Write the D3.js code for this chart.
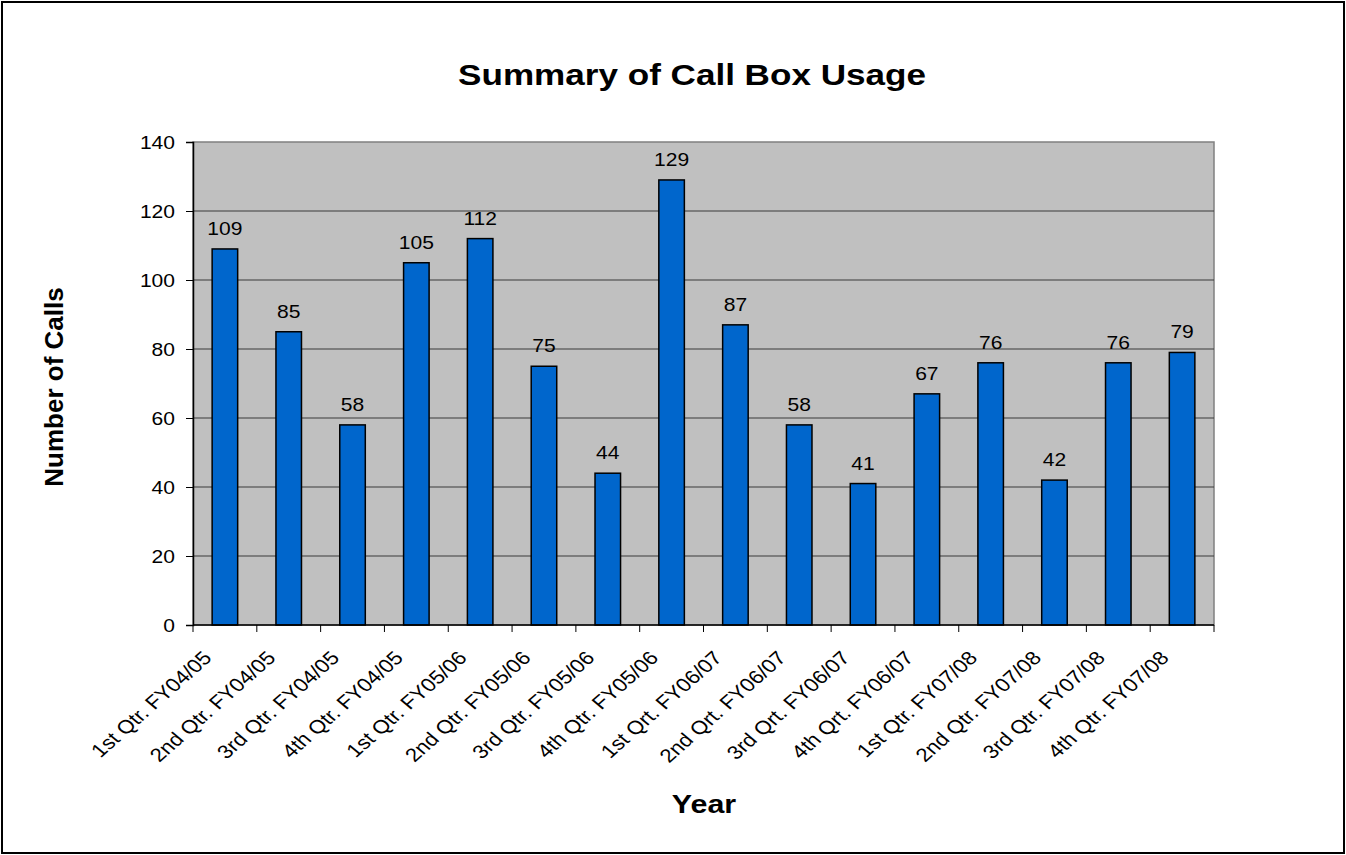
<!DOCTYPE html>
<html>
<head>
<meta charset="utf-8">
<script src="https://cdn.jsdelivr.net/npm/d3@7"></script>
<style>
  body { margin: 0; background: #fff; }
  svg text { font-family: "Liberation Sans", Arial, sans-serif; fill: #000; }
</style>
</head>
<body>
<svg id="chart" width="1346" height="855"></svg>
<script>
// quarters along the x axis (labels kept as written on the original chart)
const quarters = [
  "1st Qtr. FY04/05", "2nd Qtr. FY04/05", "3rd Qtr. FY04/05", "4th Qtr. FY04/05",
  "1st Qtr. FY05/06", "2nd Qtr. FY05/06", "3rd Qtr. FY05/06", "4th Qtr. FY05/06",
  "1st Qrt. FY06/07", "2nd Qrt. FY06/07", "3rd Qrt. FY06/07", "4th Qrt. FY06/07",
  "1st Qtr. FY07/08", "2nd Qtr. FY07/08", "3rd Qtr. FY07/08", "4th Qtr. FY07/08"
];
// number of calls per quarter
const calls = [109, 85, 58, 105, 112, 75, 44, 129, 87, 58, 41, 67, 76, 42, 76, 79];
const yTicks = [0, 20, 40, 60, 80, 100, 120, 140];

const svg = d3.select("#chart");
const W = 1346, H = 855;
const plot = { left: 193, top: 142, right: 1214, bottom: 625 };
const SX = 1.17; // the original picture is a bit stretched sideways, text too

// outer frame
svg.append("rect")
  .attr("x", 2).attr("y", 2)
  .attr("width", W - 4).attr("height", H - 4)
  .attr("fill", "#fff").attr("stroke", "#000").attr("stroke-width", 2);

const x = d3.scaleBand().domain(quarters).range([plot.left, plot.right]).padding(0);
const y = d3.scaleLinear().domain([0, 140]).range([plot.bottom, plot.top]);

// grey plot area
svg.append("rect")
  .attr("x", plot.left).attr("y", plot.top)
  .attr("width", plot.right - plot.left).attr("height", plot.bottom - plot.top)
  .attr("fill", "#c0c0c0").attr("stroke", "#808080").attr("stroke-width", 1.5);

// gridlines
svg.append("g").selectAll("line")
  .data(yTicks.filter(d => d > 0 && d < 140))
  .join("line")
    .attr("x1", plot.left).attr("x2", plot.right)
    .attr("y1", d => y(d)).attr("y2", d => y(d))
    .attr("stroke", "#3a3a3a").attr("stroke-width", 1);

// bars - about 40% of each band, centred
const barW = x.bandwidth() * 0.4;
svg.append("g").selectAll("rect")
  .data(calls)
  .join("rect")
    .attr("x", (d, i) => x(quarters[i]) + (x.bandwidth() - barW) / 2)
    .attr("y", d => y(d))
    .attr("width", barW)
    .attr("height", d => y(0) - y(d))
    .attr("fill", "#0066cc")
    .attr("stroke", "#000").attr("stroke-width", 1.5);

// value labels
svg.append("g").selectAll("text")
  .data(calls)
  .join("text")
    .attr("transform", (d, i) => `translate(${x(quarters[i]) + x.bandwidth() / 2},${y(d) - 14}) scale(${SX},1)`)
    .attr("text-anchor", "middle")
    .attr("font-size", 18)
    .text(d => d);

// y axis
const yAxis = svg.append("g")
  .attr("transform", `translate(${plot.left},0)`)
  .call(d3.axisLeft(y).tickValues(yTicks).tickSize(7).tickPadding(8));
yAxis.select(".domain").attr("stroke", "#000").attr("stroke-width", 1.5);
yAxis.selectAll(".tick line").attr("stroke", "#000");
yAxis.selectAll(".tick text")
  .attr("x", 0).attr("dy", "0.35em")
  .attr("transform", `translate(-18,0) scale(${SX},1)`)
  .attr("font-size", 18).attr("font-family", "Liberation Sans, Arial, sans-serif");

// x axis: ticks on band edges, labels rotated
const xAxisG = svg.append("g").attr("transform", `translate(0,${plot.bottom})`);
xAxisG.append("line")
  .attr("x1", plot.left).attr("x2", plot.right)
  .attr("stroke", "#000").attr("stroke-width", 1.5);
xAxisG.selectAll("line.tk")
  .data(d3.range(quarters.length + 1))
  .join("line")
    .attr("class", "tk")
    .attr("x1", i => plot.left + i * x.step()).attr("x2", i => plot.left + i * x.step())
    .attr("y1", 0).attr("y2", 7)
    .attr("stroke", "#000");
xAxisG.selectAll("text")
  .data(quarters)
  .join("text")
    .attr("text-anchor", "end")
    .attr("font-size", 19)
    .attr("transform", d => `translate(${x(d) + x.bandwidth() / 2 - 12},34) scale(${SX},1) rotate(-46)`)
    .text(d => d);

// titles
svg.append("text")
  .attr("transform", `translate(692,85) scale(${SX},1)`)
  .attr("text-anchor", "middle")
  .attr("font-size", 30).attr("font-weight", "bold")
  .text("Summary of Call Box Usage");

svg.append("text")
  .attr("transform", `translate(704,813) scale(${SX},1)`)
  .attr("text-anchor", "middle")
  .attr("font-size", 26).attr("font-weight", "bold")
  .text("Year");

svg.append("text")
  .attr("transform", "translate(63,387) rotate(-90)")
  .attr("text-anchor", "middle")
  .attr("font-size", 26).attr("font-weight", "bold")
  .text("Number of Calls");
</script>
</body>
</html>
